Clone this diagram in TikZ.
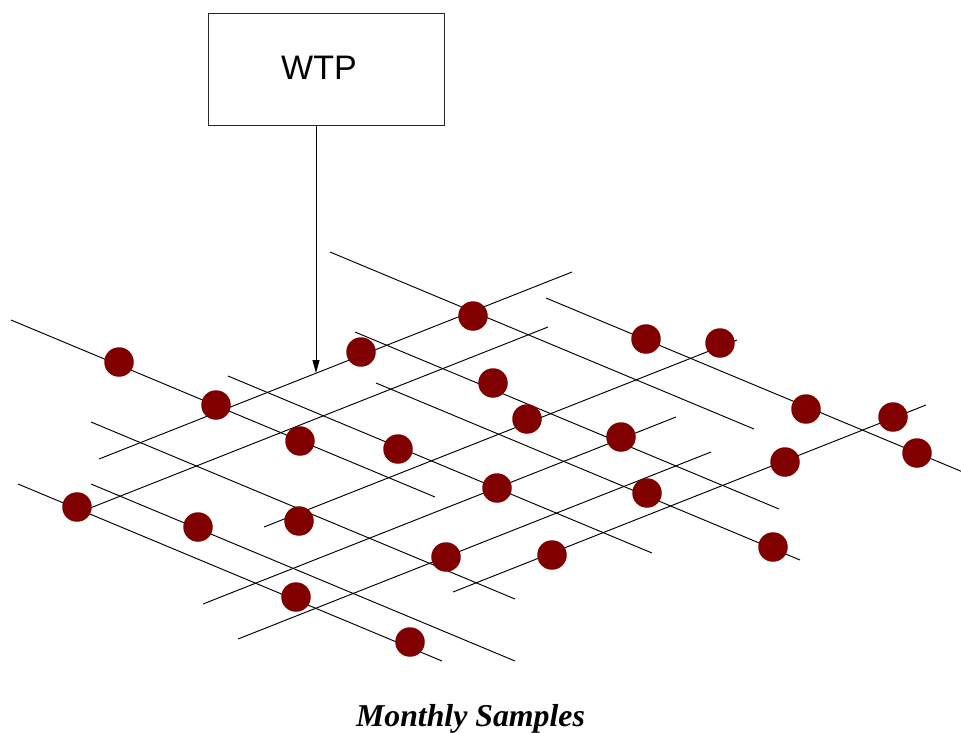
\documentclass[tikz,border=0pt]{standalone}
\usepackage{fontspec}
\setmainfont{Liberation Serif}
\newfontfamily\labelsans{Liberation Sans}
\usetikzlibrary{arrows.meta}
\definecolor{sampledot}{HTML}{800000}
\tikzset{
  gridline/.style={line width=0.95pt, black},
  sample/.style={circle, fill=sampledot, draw=none, inner sep=0pt, minimum size=29.5pt},
  plantbox/.style={draw=black!85, line width=0.9pt, minimum width=236pt, minimum height=112pt, inner sep=0pt},
  plantlabel/.style={inner sep=0pt, anchor=base, font=\labelsans\fontsize{34}{40}\selectfont},
  feed/.style={line width=0.95pt, -{Triangle[length=13pt,width=7pt]}},
  caption/.style={inner sep=0pt, anchor=base, font=\bfseries\itshape\fontsize{31.8}{36}\selectfont},
}
\begin{document}
\begin{tikzpicture}[x=1pt,y=-1pt]
\useasboundingbox (0,0) rectangle (961,732);

% pipe runs falling to the right
\foreach \x/\y in {11/320, 330/252, 546/298, 355/332, 228/376, 376/383, 91/422, 18/484, 91/484}
  \draw[gridline] (\x,\y) -- ++(424,177);

% pipe runs rising to the right
\foreach \x/\y in {99/459, 75/514, 264/527, 203/604, 238/639, 453/592}
  \draw[gridline] (\x,\y) -- ++(473,-187);

% treatment plant and its feed into the network
\node[plantbox] (wtp) at (326,69) {};
\node[plantlabel] (wtptext) at (319,79) {WTP};
\coordinate (inlet) at (316,373);
\draw[feed] (wtp.south -| inlet) -- (inlet);

% sampling points
\foreach [count=\i] \x/\y in {119/362, 216/405, 300/441, 361/352, 473/316, 398/449,
    493/383, 527/419, 646/339, 720/343, 806/409, 893/417, 917/453, 621/437,
    497/488, 647/493, 785/462, 773/547, 552/555, 446/557, 77/507, 198/527,
    299/521, 296/597, 410/642}
  \node[sample] (s\i) at (\x,\y) {};

\node[caption] (title) at (470.5,726.5) {Monthly Samples};
\end{tikzpicture}
\end{document}
